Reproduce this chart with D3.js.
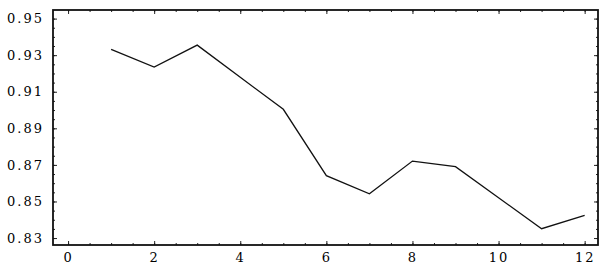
<!DOCTYPE html>
<html>
<head>
<meta charset="utf-8">
<script src="https://cdn.jsdelivr.net/npm/d3@7"></script>
<style>
  body { margin: 0; background: #fff; }
  .axis text { font-family: "DejaVu Serif", serif; font-size: 13px; letter-spacing: 2px; fill: #000; }
  .axis path { display: none; }
  .axis line { stroke: #222; stroke-width: 1; }
</style>
</head>
<body>
<div id="chart"></div>
<script>
// data
var xs = [1, 2, 3, 5, 6, 7, 8, 9, 11, 12];
var vals = [0.9332, 0.9235, 0.9355, 0.9004, 0.8641, 0.8542, 0.8721, 0.869, 0.8351, 0.8424];
var xTicks = [0, 2, 4, 6, 8, 10, 12];
var yTicks = [0.83, 0.85, 0.87, 0.89, 0.91, 0.93, 0.95];

var width = 613, height = 268;
var plotLeft = 53, plotRight = 598, plotTop = 10, plotBottom = 245;

var svg = d3.select("#chart").append("svg")
    .attr("width", width)
    .attr("height", height);

var x = d3.scaleLinear().domain([-0.35, 12.31]).range([plotLeft, plotRight]);
var y = d3.scaleLinear().domain([0.8262, 0.9547]).range([plotBottom, plotTop]);

var xMinor = d3.range(0, 12.01, 0.5);
var yMinor = d3.range(0.83, 0.9501, 0.005);

// minor ticks on all four sides
svg.append("g").attr("class", "axis").attr("transform", "translate(0," + plotBottom + ")")
    .call(d3.axisBottom(x).tickValues(xMinor).tickSize(-2).tickFormat(""));
svg.append("g").attr("class", "axis").attr("transform", "translate(0," + plotTop + ")")
    .call(d3.axisTop(x).tickValues(xMinor).tickSize(-2).tickFormat(""));
svg.append("g").attr("class", "axis").attr("transform", "translate(" + plotLeft + ",0)")
    .call(d3.axisLeft(y).tickValues(yMinor).tickSize(-2).tickFormat(""));
svg.append("g").attr("class", "axis").attr("transform", "translate(" + plotRight + ",0)")
    .call(d3.axisRight(y).tickValues(yMinor).tickSize(-2).tickFormat(""));

// major ticks + labels
svg.append("g").attr("class", "axis").attr("transform", "translate(0," + plotBottom + ")")
    .call(d3.axisBottom(x).tickValues(xTicks).tickSize(-4).tickPadding(8).tickFormat(d3.format("d")));
svg.append("g").attr("class", "axis").attr("transform", "translate(0," + plotTop + ")")
    .call(d3.axisTop(x).tickValues(xTicks).tickSize(-4).tickFormat(""));
svg.append("g").attr("class", "axis").attr("transform", "translate(" + plotLeft + ",0)")
    .call(d3.axisLeft(y).tickValues(yTicks).tickSize(-4).tickPadding(9).tickFormat(d3.format(".2f")));
svg.append("g").attr("class", "axis").attr("transform", "translate(" + plotRight + ",0)")
    .call(d3.axisRight(y).tickValues(yTicks).tickSize(-4).tickFormat(""));

// frame
svg.append("rect")
    .attr("x", plotLeft).attr("y", plotTop)
    .attr("width", plotRight - plotLeft).attr("height", plotBottom - plotTop)
    .attr("fill", "none")
    .attr("stroke", "#111")
    .attr("stroke-width", 1.8);

var line = d3.line()
    .x(function(d, i) { return x(xs[i]); })
    .y(function(d) { return y(d); });

svg.append("path")
    .datum(vals)
    .attr("d", line)
    .attr("fill", "none")
    .attr("stroke", "#111")
    .attr("stroke-width", 1.3);
</script>
</body>
</html>
